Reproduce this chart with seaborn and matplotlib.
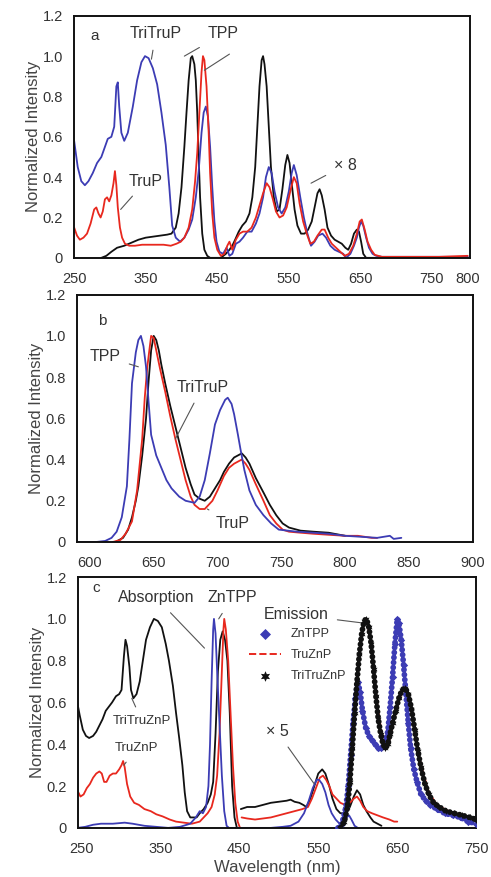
import numpy as np
import pandas as pd
import seaborn as sns
import matplotlib.pyplot as plt

# ---------------- panel a : absorption (TriTruP, TruP, TPP) ----------------
a_tritrup_x = [250, 255, 260, 265, 270, 276, 282, 288, 293, 297, 302, 306, 309, 311, 313, 316, 320, 325, 332, 338,
               344, 349, 354, 360, 366, 372, 378, 383, 387, 392, 398, 404, 410, 415, 420, 424, 428, 431, 434, 437,
               440, 443, 446, 449, 453, 458, 463, 467, 471, 476, 481, 486, 492, 498, 504, 509, 514, 518, 522, 526,
               530, 535, 540, 545, 550, 554, 557, 561, 566, 571, 576, 581, 586, 591, 597, 602, 608, 614, 620, 626,
               630, 636, 641, 645, 648, 651, 654, 658, 662, 667, 672, 680, 700, 750, 800]
a_tritrup_y = [0.58, 0.45, 0.38, 0.36, 0.38, 0.42, 0.47, 0.50, 0.55, 0.59, 0.60, 0.65, 0.85, 0.87, 0.75, 0.62, 0.58,
               0.62, 0.75, 0.88, 0.97, 1.00, 0.99, 0.94, 0.86, 0.72, 0.56, 0.35, 0.16, 0.10, 0.08, 0.10, 0.14, 0.19,
               0.30, 0.43, 0.62, 0.72, 0.75, 0.70, 0.55, 0.35, 0.18, 0.08, 0.03, 0.02, 0.05, 0.01, 0.02, 0.07, 0.08,
               0.10, 0.13, 0.13, 0.17, 0.22, 0.30, 0.40, 0.45, 0.42, 0.33, 0.25, 0.22, 0.25, 0.33, 0.42, 0.46, 0.41,
               0.30, 0.20, 0.12, 0.06, 0.08, 0.11, 0.12, 0.10, 0.06, 0.04, 0.03, 0.02, 0.00, 0.02, 0.06, 0.10, 0.15,
               0.18, 0.16, 0.10, 0.05, 0.02, 0.01, 0.005, 0.005, 0.005, 0.005]

a_trup_x = [250, 254, 258, 263, 268, 273, 278, 281, 284, 287, 290, 293, 296, 299, 302, 305, 307, 309, 311, 314,
            317, 321, 327, 335, 345, 355, 365, 375, 385, 393, 399, 404, 410, 415, 419, 422, 425, 428, 430, 432,
            435, 438, 440, 443, 446, 450, 455, 460, 464, 467, 471, 476, 481, 486, 492, 498, 504, 509, 514, 519,
            523, 527, 532, 537, 542, 547, 552, 557, 561, 565, 570, 575, 580, 585, 590, 596, 600, 605, 610, 616,
            622, 628, 634, 640, 645, 649, 652, 656, 660, 665, 670, 680, 720, 760, 800]
a_trup_y = [0.15, 0.11, 0.09, 0.10, 0.12, 0.17, 0.24, 0.25, 0.22, 0.20, 0.23, 0.29, 0.30, 0.28, 0.31, 0.37, 0.43,
            0.36, 0.25, 0.15, 0.10, 0.07, 0.06, 0.06, 0.065, 0.065, 0.065, 0.065, 0.06, 0.07, 0.08, 0.10, 0.15,
            0.24, 0.38, 0.52, 0.72, 0.92, 1.00, 0.98, 0.85, 0.62, 0.42, 0.22, 0.10, 0.04, 0.01, 0.02, 0.06, 0.08,
            0.04, 0.09, 0.12, 0.13, 0.13, 0.15, 0.20, 0.26, 0.32, 0.37, 0.35, 0.30, 0.23, 0.20, 0.21, 0.25, 0.33,
            0.40, 0.37, 0.27, 0.18, 0.12, 0.07, 0.08, 0.11, 0.14, 0.14, 0.10, 0.07, 0.05, 0.03, 0.01, 0.02, 0.06,
            0.12, 0.18, 0.19, 0.14, 0.08, 0.04, 0.015, 0.005, 0.005, 0.005, 0.01]

a_tpp_x = [288, 295, 302, 310, 320, 330, 340, 350, 360, 370, 380, 386, 392, 396, 400, 404, 407, 410, 413, 415,
           418, 420, 422, 424, 426, 429, 432, 436, 440, 455, 462, 467, 471, 475, 480, 485, 490, 495, 499, 503,
           506, 509, 512, 514, 516, 519, 522, 525, 529, 533, 537, 541, 545, 548, 551, 554, 558, 562, 567, 572,
           577, 582, 586, 590, 593, 596, 600, 604, 609, 614, 619, 624, 629, 633, 637, 641, 645, 648, 651, 654,
           658, 670]
a_tpp_y = [0.00, 0.01, 0.03, 0.05, 0.06, 0.075, 0.09, 0.10, 0.105, 0.11, 0.115, 0.12, 0.15, 0.22, 0.35, 0.55,
           0.72, 0.88, 0.99, 1.00, 0.96, 0.88, 0.72, 0.50, 0.30, 0.12, 0.04, 0.01, 0.00, 0.00, 0.02, 0.04, 0.06,
           0.09, 0.13, 0.16, 0.18, 0.22, 0.30, 0.45, 0.65, 0.85, 0.98, 1.00, 0.96, 0.85, 0.65, 0.45, 0.30, 0.23,
           0.24, 0.34, 0.46, 0.51, 0.47, 0.37, 0.24, 0.16, 0.12, 0.12, 0.14, 0.18, 0.25, 0.32, 0.34, 0.31, 0.24,
           0.15, 0.11, 0.09, 0.08, 0.07, 0.05, 0.04, 0.07, 0.12, 0.14, 0.13, 0.08, 0.02, 0.00, 0.00]

# ---------------- panel b : emission (TPP, TriTruP, TruP) ----------------
b_tpp_x = [590, 605, 612, 617, 621, 625, 629, 631, 633, 636, 638, 640, 642, 644, 646, 648, 652, 656, 660, 664,
           670, 675, 682, 686, 690, 694, 698, 702, 706, 708, 711, 713, 716, 718, 721, 725, 730, 736, 742, 748,
           755, 762, 775, 787, 800, 813, 825, 835, 838, 844]
b_tpp_y = [0.00, 0.00, 0.005, 0.02, 0.05, 0.12, 0.27, 0.50, 0.77, 0.92, 0.98, 1.00, 0.95, 0.85, 0.68, 0.52, 0.42,
           0.36, 0.30, 0.26, 0.22, 0.20, 0.19, 0.22, 0.30, 0.43, 0.57, 0.64, 0.69, 0.70, 0.67, 0.62, 0.52, 0.45,
           0.35, 0.25, 0.18, 0.13, 0.09, 0.06, 0.055, 0.05, 0.045, 0.04, 0.03, 0.025, 0.02, 0.03, 0.015, 0.02]

b_tritrup_x = [620, 626, 630, 633, 636, 638, 641, 644, 646, 648, 650, 652, 654, 656, 659, 663, 667, 671, 675, 679,
               682, 686, 690, 694, 698, 702, 705, 709, 713, 716, 719, 722, 725, 730, 736, 741, 746, 751, 756, 765,
               775, 787, 800]
b_tritrup_y = [0.00, 0.02, 0.06, 0.12, 0.20, 0.27, 0.42, 0.60, 0.78, 0.93, 1.00, 0.98, 0.93, 0.86, 0.77, 0.66,
               0.56, 0.46, 0.36, 0.28, 0.23, 0.21, 0.20, 0.22, 0.26, 0.30, 0.34, 0.38, 0.41, 0.42, 0.43, 0.41, 0.38,
               0.31, 0.24, 0.18, 0.13, 0.09, 0.07, 0.055, 0.05, 0.045, 0.03]

b_trup_x = [618, 624, 628, 633, 637, 641, 643, 645, 647, 648, 650, 652, 655, 659, 663, 667, 671, 675, 679, 682,
            686, 690, 693, 696, 700, 705, 709, 713, 716, 719, 722, 725, 730, 736, 741, 746, 751, 756, 765, 775,
            787, 800, 810, 821, 825]
b_trup_y = [0.00, 0.01, 0.04, 0.10, 0.25, 0.50, 0.70, 0.85, 0.95, 1.00, 0.99, 0.93, 0.84, 0.73, 0.61, 0.50, 0.40,
            0.30, 0.22, 0.18, 0.16, 0.16, 0.18, 0.20, 0.25, 0.32, 0.36, 0.38, 0.39, 0.40, 0.38, 0.35, 0.28, 0.20,
            0.13, 0.09, 0.06, 0.05, 0.045, 0.04, 0.035, 0.03, 0.03, 0.02, 0.02]

# ---------------- panel c : Zn complexes, absorption + emission ----------------
c_tritru_abs1_x = [245, 248, 252, 256, 260, 265, 269, 273, 277, 281, 285, 289, 294, 298, 301, 304, 306, 308, 311,
                   313, 316, 320, 324, 328, 332, 337, 342, 347, 352, 357, 361, 366, 370, 374, 378, 381, 384, 388,
                   392, 396, 400, 405, 410, 414, 417, 420, 423, 426, 429, 432, 435, 438, 441, 444, 447]
c_tritru_abs1_y = [0.60, 0.54, 0.47, 0.44, 0.43, 0.44, 0.46, 0.49, 0.52, 0.56, 0.58, 0.60, 0.63, 0.64, 0.66, 0.82,
                   0.90, 0.87, 0.77, 0.66, 0.62, 0.64, 0.70, 0.80, 0.90, 0.96, 1.00, 0.99, 0.96, 0.88, 0.80, 0.68,
                   0.55, 0.43, 0.30, 0.17, 0.08, 0.05, 0.05, 0.05, 0.07, 0.09, 0.12, 0.16, 0.22, 0.45, 0.75, 0.90,
                   0.94, 0.90, 0.80, 0.55, 0.20, 0.05, 0.00]
c_tritru_abs2_x = [452, 460, 470, 480, 490, 500, 510, 515, 520, 526, 531, 535, 540, 545, 550, 555, 559, 564, 568,
                   573, 578, 585, 590, 595, 599, 603, 607, 611, 616, 620, 625, 630]
c_tritru_abs2_y = [0.09, 0.10, 0.10, 0.11, 0.12, 0.125, 0.13, 0.135, 0.125, 0.12, 0.11, 0.10, 0.14, 0.20, 0.26,
                   0.28, 0.26, 0.20, 0.14, 0.09, 0.07, 0.07, 0.10, 0.15, 0.18, 0.16, 0.11, 0.08, 0.05, 0.03, 0.02,
                   0.01]

c_tru_abs1_x = [245, 249, 253, 257, 261, 265, 269, 273, 276, 279, 282, 286, 290, 294, 298, 301, 303, 305, 308, 312,
                317, 323, 330, 338, 345, 353, 362, 370, 380, 390, 400, 405, 410, 415, 419, 422, 425, 428, 430, 431,
                433, 436, 439, 442, 445, 448, 451]
c_tru_abs1_y = [0.18, 0.15, 0.16, 0.19, 0.21, 0.24, 0.26, 0.27, 0.26, 0.22, 0.22, 0.25, 0.26, 0.26, 0.28, 0.30,
                0.32, 0.29, 0.21, 0.15, 0.12, 0.11, 0.09, 0.08, 0.065, 0.055, 0.04, 0.03, 0.025, 0.02, 0.03, 0.05,
                0.07, 0.10, 0.16, 0.25, 0.45, 0.75, 0.95, 1.00, 0.95, 0.80, 0.55, 0.30, 0.12, 0.03, 0.00]
c_tru_abs2_x = [453, 460, 470, 480, 490, 500, 510, 520, 530, 537, 542, 547, 552, 556, 560, 564, 568, 573, 578, 584,
                590, 595, 599, 603, 607, 612, 618, 625, 632, 640, 646, 650]
c_tru_abs2_y = [0.05, 0.045, 0.04, 0.045, 0.05, 0.06, 0.07, 0.08, 0.09, 0.10, 0.14, 0.19, 0.24, 0.25, 0.23, 0.20,
                0.16, 0.14, 0.12, 0.11, 0.12, 0.14, 0.15, 0.13, 0.10, 0.08, 0.07, 0.06, 0.05, 0.04, 0.03, 0.03]

c_zntpp_abs_x = [245, 255, 265, 275, 290, 305, 315, 330, 345, 360, 375, 388, 395, 400, 404, 408, 411, 413, 415,
                 417, 418, 420, 422, 425, 428, 431, 434, 437, 450, 470, 490, 505, 515, 525, 532, 538, 543, 548, 551,
                 555, 559, 563, 567, 572, 577, 582, 586, 589, 592, 596, 600]
c_zntpp_abs_y = [0.00, 0.005, 0.015, 0.02, 0.02, 0.025, 0.02, 0.01, 0.005, 0.00, 0.005, 0.02, 0.05, 0.08, 0.07,
                 0.10, 0.20, 0.40, 0.70, 0.95, 1.00, 0.93, 0.75, 0.50, 0.25, 0.08, 0.01, 0.00, 0.00, 0.00, 0.00,
                 0.005, 0.01, 0.03, 0.07, 0.13, 0.19, 0.23, 0.23, 0.21, 0.17, 0.11, 0.07, 0.04, 0.02, 0.03, 0.05,
                 0.06, 0.04, 0.01, 0.00]

c_zntpp_em_x = [575, 580, 585, 588, 591, 594, 597, 600, 603, 606, 610, 614, 618, 622, 626, 630, 634, 638, 641, 644,
                647, 650, 652, 655, 658, 661, 664, 667, 671, 675, 680, 686, 692, 700, 710, 720, 730, 740, 750]
c_zntpp_em_y = [0.00, 0.02, 0.10, 0.20, 0.35, 0.50, 0.62, 0.70, 0.65, 0.56, 0.48, 0.44, 0.42, 0.40, 0.38, 0.38,
                0.40, 0.46, 0.58, 0.72, 0.88, 1.00, 0.98, 0.90, 0.78, 0.64, 0.50, 0.38, 0.28, 0.22, 0.16, 0.13,
                0.11, 0.09, 0.07, 0.06, 0.05, 0.03, 0.02]

c_truzn_em_x = [578, 585, 590, 595, 600, 605, 609, 612, 616, 620, 625, 630, 635, 640, 645, 650, 655, 660, 665, 670,
                675, 680, 690, 700, 715, 730, 750]
c_truzn_em_y = [0.00, 0.06, 0.20, 0.48, 0.76, 0.93, 0.99, 0.98, 0.90, 0.76, 0.58, 0.46, 0.40, 0.42, 0.50, 0.58,
                0.64, 0.66, 0.62, 0.52, 0.40, 0.30, 0.17, 0.11, 0.08, 0.06, 0.04]

c_tritruzn_em_x = [578, 583, 587, 590, 593, 596, 599, 602, 605, 608, 611, 614, 617, 620, 623, 626, 629, 632, 635,
                   638, 641, 644, 648, 652, 656, 660, 664, 668, 672, 676, 680, 685, 690, 696, 703, 712, 722, 732,
                   742, 750]
c_tritruzn_em_y = [0.00, 0.03, 0.10, 0.22, 0.38, 0.55, 0.70, 0.83, 0.93, 0.99, 1.00, 0.96, 0.88, 0.76, 0.63, 0.52,
                   0.45, 0.40, 0.38, 0.40, 0.45, 0.50, 0.56, 0.62, 0.66, 0.67, 0.64, 0.57, 0.47, 0.37, 0.29, 0.21,
                   0.16, 0.12, 0.10, 0.08, 0.07, 0.06, 0.05, 0.04]

y_ticks = [0, 0.2, 0.4, 0.6, 0.8, 1.0, 1.2]
y_tick_labels = ['0', '0.2', '0.4', '0.6', '0.8', '1.0', '1.2']
a_x_ticks = [250, 350, 450, 550, 650, 750, 800]
b_x_ticks = [600, 650, 700, 750, 800, 850, 900]
c_x_ticks = [250, 350, 450, 550, 650, 750]

BLUE = '#3c3cb4'
RED = '#e8281e'
BLACK = '#111111'
TXT = '#333333'

sns.set_theme(style='white')
plt.rcParams['font.family'] = ['Liberation Sans', 'DejaVu Sans']

fig = plt.figure(figsize=(4.91, 8.77), dpi=100)
ax_a = fig.add_axes([0.151, 0.706, 0.806, 0.276])
ax_b = fig.add_axes([0.157, 0.382, 0.806, 0.282])
ax_c = fig.add_axes([0.159, 0.056, 0.811, 0.286])


def line(ax, x, y, color, **kw):
    sns.lineplot(x=x, y=y, ax=ax, color=color, linewidth=1.3, estimator=None, sort=False, **kw)


def style(ax, xlim, xticks):
    ax.set_xlim(*xlim)
    ax.set_ylim(0, 1.2)
    ax.set_xticks(xticks)
    ax.set_yticks(y_ticks)
    ax.set_yticklabels(y_tick_labels)
    ax.tick_params(direction='in', length=3, width=0.8, colors=BLACK, labelcolor=TXT, labelsize=10.5)
    ax.tick_params(axis='x', pad=10)
    ax.tick_params(axis='y', pad=8)
    for s in ax.spines.values():
        s.set_color(BLACK)
        s.set_linewidth(1.4)
    ax.set_ylabel('Normalized Intensity', fontsize=12, color='#444444', labelpad=1)
    ax.set_xlabel('')


def note(ax, text, xy, xytext, size=11.5):
    ax.annotate(text, xy=xy, xytext=xytext, ha='center', va='center', fontsize=size, color=TXT,
                arrowprops=dict(arrowstyle='-', color='#555555', lw=0.8, shrinkA=4, shrinkB=0))


# ---- panel a
line(ax_a, a_tpp_x, a_tpp_y, BLACK)
line(ax_a, a_tritrup_x, a_tritrup_y, BLUE)
line(ax_a, a_trup_x, a_trup_y, RED)
style(ax_a, (250, 803), a_x_ticks)
ax_a.text(279, 1.1, 'a', fontsize=11, color=TXT, ha='center', va='center')
note(ax_a, 'TriTruP', (358, 0.985), (364, 1.11))
note(ax_a, 'TPP', (404, 1.0), (458, 1.11))
ax_a.annotate('', xy=(432, 0.93), xytext=(467, 1.01),
              arrowprops=dict(arrowstyle='-', color='#555555', lw=0.8, shrinkA=0, shrinkB=0))
note(ax_a, 'TruP', (315, 0.24), (350, 0.38))
note(ax_a, '× 8', (581, 0.37), (629, 0.46))

# ---- panel b
line(ax_b, b_tritrup_x, b_tritrup_y, BLACK)
line(ax_b, b_trup_x, b_trup_y, RED)
line(ax_b, b_tpp_x, b_tpp_y, BLUE)
style(ax_b, (590, 900), b_x_ticks)
ax_b.text(610, 1.07, 'b', fontsize=11, color=TXT, ha='center', va='center')
note(ax_b, 'TPP', (638, 0.85), (612, 0.9))
note(ax_b, 'TriTruP', (667, 0.5), (688, 0.75))
note(ax_b, 'TruP', (692, 0.16), (712, 0.09))

# ---- panel c
line(ax_c, c_tritru_abs1_x, c_tritru_abs1_y, BLACK)
line(ax_c, c_tritru_abs2_x, c_tritru_abs2_y, BLACK)
line(ax_c, c_tru_abs1_x, c_tru_abs1_y, RED)
line(ax_c, c_tru_abs2_x, c_tru_abs2_y, RED)
line(ax_c, c_zntpp_abs_x, c_zntpp_abs_y, BLUE)

# emission: dense marker trains drawn as a dotted band through the read points
sns.lineplot(x=c_truzn_em_x, y=c_truzn_em_y, ax=ax_c, color=RED, linewidth=1.4, linestyle='--',
             estimator=None, label='TruZnP')
sns.lineplot(x=c_zntpp_em_x, y=c_zntpp_em_y, ax=ax_c, color=BLUE, linewidth=4.2, estimator=None,
             dashes=False, linestyle=(0, (0.01, 0.85)), dash_capstyle='round', zorder=4)
sns.scatterplot(x=c_zntpp_em_x, y=c_zntpp_em_y, ax=ax_c, color=BLUE, marker='D', s=14, linewidth=0,
                label='ZnTPP', zorder=4)
sns.lineplot(x=c_tritruzn_em_x, y=c_tritruzn_em_y, ax=ax_c, color=BLACK, linewidth=4.2, estimator=None,
             dashes=False, linestyle=(0, (0.01, 0.85)), dash_capstyle='round', zorder=5)
sns.scatterplot(x=c_tritruzn_em_x, y=c_tritruzn_em_y, ax=ax_c, color=BLACK, marker=(6, 1, 0), s=26,
                linewidth=0, label='TriTruZnP', zorder=5)
style(ax_c, (246, 750), c_x_ticks)
ax_c.set_xlabel('Wavelength (nm)', fontsize=12, color='#444444', labelpad=3)

h, l = ax_c.get_legend_handles_labels()
order = [l.index('ZnTPP'), l.index('TruZnP'), l.index('TriTruZnP')]
leg = ax_c.legend([h[i] for i in order], [l[i] for i in order], loc='upper left',
                  bbox_to_anchor=(0.40, 0.84), frameon=False, fontsize=9, handlelength=2.6,
                  labelspacing=0.7, markerscale=1.5)
for t in leg.get_texts():
    t.set_color(TXT)

ax_c.text(269, 1.15, 'c', fontsize=11, color=TXT, ha='center', va='center')
note(ax_c, 'Absorption', (406, 0.86), (345, 1.1))
note(ax_c, 'ZnTPP', (424, 1.0), (441, 1.1))
note(ax_c, 'Emission', (607, 0.98), (522, 1.02))
note(ax_c, 'TriTruZnP', (314, 0.62), (327, 0.51), size=9.5)
note(ax_c, 'TruZnP', (304, 0.3), (320, 0.38), size=9.5)
note(ax_c, '× 5', (545, 0.21), (498, 0.46))

fig.savefig('out.png', dpi=100)
